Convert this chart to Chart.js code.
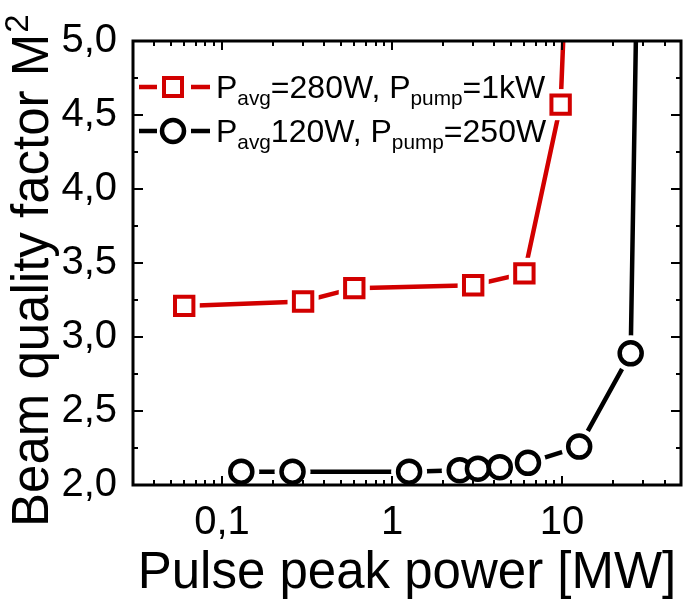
<!DOCTYPE html>
<html>
<head>
<meta charset="utf-8">
<script src="https://cdn.jsdelivr.net/npm/chart.js@4.4.1/dist/chart.umd.min.js"></script>
<style>
  html, body { margin: 0; padding: 0; background: #fff; }
  #wrap { width: 685px; height: 605px; }
</style>
</head>
<body>
<div id="wrap"><canvas id="m2Chart" width="685" height="605"></canvas></div>
<script>
// pulse peak power [MW] vs M^2 (last point of each series sits above the frame)
const powerRed = [0.06, 0.3, 0.6, 3.0, 6.0, 9.8, 11];
const m2Red = [3.21, 3.24, 3.33, 3.35, 3.43, 4.57, 6.0];
const powerBlack = [0.13, 0.26, 1.26, 2.5, 3.2, 4.3, 6.3, 12.6, 25.3, 29];
const m2Black = [2.09, 2.09, 2.09, 2.10, 2.11, 2.12, 2.15, 2.26, 2.89, 7.0];

const xTickValues = [0.1, 1, 10];
const xTickLabels = ['0,1', '1', '10'];
const yTickValues = [2.0, 2.5, 3.0, 3.5, 4.0, 4.5, 5.0];
const yTickLabels = ['2,0', '2,5', '3,0', '3,5', '4,0', '4,5', '5,0'];

const xTitle = 'Pulse peak power [MW]';
const yTitle = ['Beam quality factor M', '2'];
// legend text pieces: [text, isSubscript]
const legendRed = [['P', 0], ['avg', 1], ['=280W, P', 0], ['pump', 1], ['=1kW', 0]];
const legendBlack = [['P', 0], ['avg', 1], ['120W, P', 0], ['pump', 1], ['=250W', 0]];

const RED = '#d20000';
const FONT = '"Liberation Sans", Arial, sans-serif';

function pts(xs, ys) {
    return xs.map((v, i) => ({ x: v, y: ys[i] }));
}

const redData = pts(powerRed, m2Red);
const blackData = pts(powerBlack, m2Black);

function drawTextRun(ctx, parts, x, y, size) {
    for (let [txt, sub] of parts) {
        ctx.font = (sub ? size * 0.65 : size) + 'px ' + FONT;
        ctx.fillText(txt, x, sub ? y + size * 0.22 : y);
        x += ctx.measureText(txt).width;
    }
}

const decorations = {
    id: 'decorations',
    afterDraw(chart) {
        const { ctx, chartArea: a, scales: { x, y } } = chart;
        ctx.save();
        ctx.strokeStyle = '#000';
        ctx.fillStyle = '#000';

        // minor / major ticks pointing inward on all four sides
        ctx.lineWidth = 2;
        ctx.beginPath();
        for (let e = -2; e <= 1; e++) {
            for (let m = 1; m <= 9; m++) {
                const v = m * Math.pow(10, e);
                if (v <= x.min || v >= x.max) continue;
                const px = Math.round(x.getPixelForValue(v));
                const len = m === 1 ? 9 : 5;
                ctx.moveTo(px, a.bottom); ctx.lineTo(px, a.bottom - len);
                ctx.moveTo(px, a.top); ctx.lineTo(px, a.top + len);
            }
        }
        for (let i = 1; i < 12; i++) {
            const v = 2 + i * 0.25;
            const py = Math.round(y.getPixelForValue(v));
            const len = i % 2 === 0 ? 10 : 5;
            ctx.moveTo(a.left, py); ctx.lineTo(a.left + len, py);
            ctx.moveTo(a.right, py); ctx.lineTo(a.right - len, py);
        }
        ctx.stroke();

        // frame
        ctx.lineWidth = 3;
        ctx.strokeRect(a.left, a.top, a.right - a.left, a.bottom - a.top);

        // axis titles
        ctx.textBaseline = 'alphabetic';
        ctx.textAlign = 'center';
        ctx.font = '51px ' + FONT;
        ctx.fillText(xTitle, (a.left + a.right) / 2, 588);

        ctx.save();
        ctx.translate(48, 527);
        ctx.rotate(-Math.PI / 2);
        ctx.textAlign = 'left';
        ctx.font = '51px ' + FONT;
        ctx.fillText(yTitle[0], 0, 0);
        const w = ctx.measureText(yTitle[0]).width;
        ctx.font = '33px ' + FONT;
        ctx.fillText(yTitle[1], w + 1, -20);
        ctx.restore();

        // legend
        const rows = [
            { parts: legendRed, color: RED, style: 'rect', y: 87 },
            { parts: legendBlack, color: '#000', style: 'circle', y: 131 }
        ];
        ctx.textAlign = 'left';
        for (let r of rows) {
            ctx.strokeStyle = r.color;
            ctx.lineWidth = 4.5;
            ctx.beginPath();
            ctx.moveTo(139, r.y); ctx.lineTo(157, r.y);
            ctx.moveTo(191, r.y); ctx.lineTo(210, r.y);
            ctx.stroke();
            ctx.fillStyle = '#fff';
            ctx.lineWidth = r.style === 'rect' ? 4 : 4.5;
            ctx.beginPath();
            if (r.style === 'rect') ctx.rect(164, r.y - 9, 18, 18);
            else ctx.arc(173, r.y, 11, 0, Math.PI * 2);
            ctx.fill();
            ctx.stroke();
            ctx.fillStyle = '#000';
            drawTextRun(ctx, r.parts, 216, r.y + 11, 32);
        }
        ctx.restore();
    }
};

new Chart(document.getElementById('m2Chart'), {
    type: 'line',
    data: {
        datasets: [
            { data: redData, borderColor: RED, borderWidth: 4.5, pointRadius: 0, order: 2 },
            { data: blackData, borderColor: '#000', borderWidth: 4.5, pointRadius: 0, order: 2 },
            { data: redData, showLine: false, pointStyle: 'rect', pointRadius: 22, pointBorderWidth: 0,
              pointBackgroundColor: '#fff', pointBorderColor: '#fff', order: 1 },
            { data: blackData, showLine: false, pointStyle: 'circle', pointRadius: 18, pointBorderWidth: 0,
              pointBackgroundColor: '#fff', pointBorderColor: '#fff', order: 1 },
            { data: redData, showLine: false, pointStyle: 'rect', pointRadius: 13, pointBorderWidth: 4,
              pointBackgroundColor: '#fff', pointBorderColor: RED, order: 0 },
            { data: blackData, showLine: false, pointStyle: 'circle', pointRadius: 11, pointBorderWidth: 4.5,
              pointBackgroundColor: '#fff', pointBorderColor: '#000', order: 0 }
        ]
    },
    options: {
        responsive: false,
        animation: false,
        devicePixelRatio: 1,
        layout: { autoPadding: false, padding: { top: 41, right: 4, left: 0, bottom: 0 } },
        plugins: { legend: { display: false }, tooltip: { enabled: false } },
        elements: { line: { tension: 0 }, point: { hoverRadius: 0 } },
        scales: {
            x: {
                type: 'logarithmic',
                min: 0.03,
                max: 50,
                grid: { display: false },
                border: { display: false },
                afterBuildTicks: (s) => { s.ticks = xTickValues.map(v => ({ value: v })); },
                afterFit: (s) => { s.height = 120; s.paddingLeft = 0; s.paddingRight = 0; },
                ticks: {
                    autoSkip: false,
                    maxRotation: 0,
                    padding: 6,
                    color: '#000',
                    font: { family: FONT, size: 40 },
                    callback: (v) => xTickLabels[xTickValues.indexOf(v)]
                }
            },
            y: {
                min: 2,
                max: 5,
                grid: { display: false },
                border: { display: false },
                afterBuildTicks: (s) => { s.ticks = yTickValues.map(v => ({ value: v })); },
                afterFit: (s) => { s.width = 133; s.paddingTop = 0; s.paddingBottom = 0; },
                ticks: {
                    padding: 8,
                    color: '#000',
                    font: { family: FONT, size: 40 },
                    callback: (v) => yTickLabels[yTickValues.indexOf(v)]
                }
            }
        }
    },
    plugins: [decorations]
});
</script>
</body>
</html>
